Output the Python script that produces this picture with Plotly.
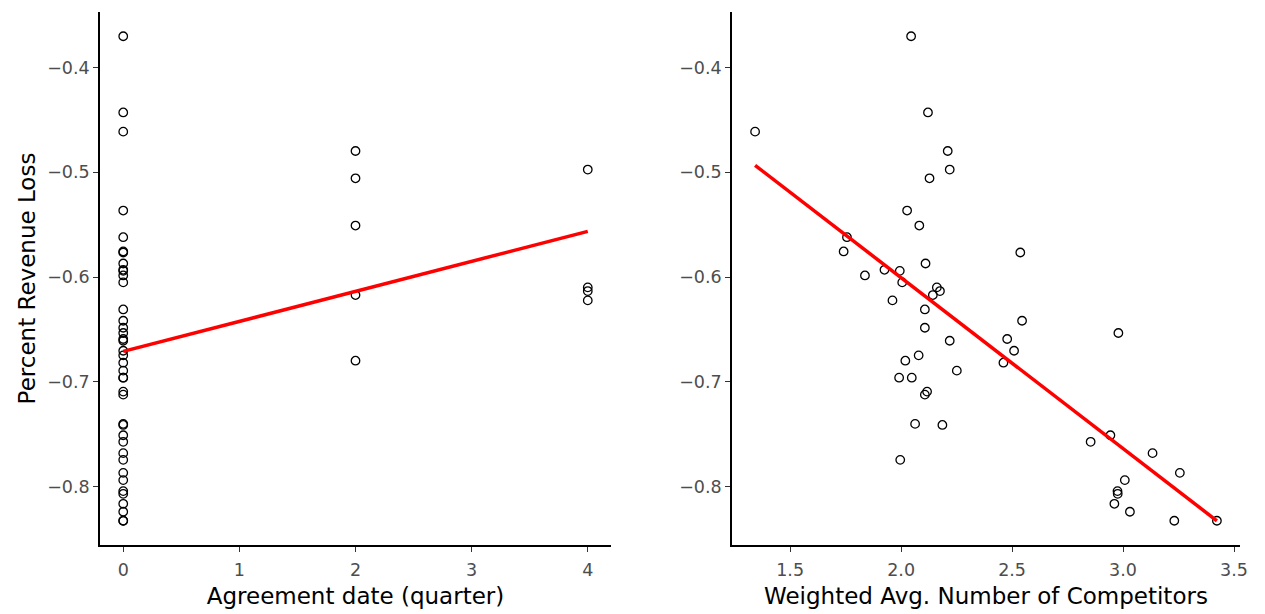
import numpy as np
import plotly.graph_objects as go

agreement_quarter = [0, 0, 0, 2, 4, 2, 0, 2, 0, 0,
                     0, 0, 0, 0, 0, 0, 4, 4, 2, 4,
                     0, 0, 0, 0, 0, 0, 0, 0, 2, 0,
                     0, 0, 0, 0, 0, 0, 0, 0, 0, 0,
                     0, 0, 0, 0, 0, 0, 0, 0, 0]
competitors = [2.045, 1.342, 2.121, 2.210, 2.219, 2.128, 2.027, 2.082, 1.756, 1.741,
               2.537, 2.110, 1.925, 1.994, 1.837, 2.005, 2.161, 2.175, 2.143, 1.961,
               2.107, 2.545, 2.107, 2.979, 2.478, 2.219, 2.509, 2.079, 2.019, 2.461,
               2.251, 1.991, 2.048, 2.117, 2.107, 2.063, 2.186, 2.943, 2.854, 3.133,
               1.996, 3.256, 3.008, 2.975, 2.976, 2.961, 3.031, 3.231, 3.423]
revenue_loss = [-0.3702, -0.4612, -0.4429, -0.4797, -0.4974, -0.5057, -0.5365, -0.5508, -0.5619, -0.5755,
                -0.5765, -0.5870, -0.5930, -0.5940, -0.5984, -0.6050, -0.6098, -0.6133, -0.6171, -0.6222,
                -0.6308, -0.6416, -0.6483, -0.6533, -0.6590, -0.6607, -0.6702, -0.6746, -0.6797, -0.6816,
                -0.6892, -0.6959, -0.6959, -0.7092, -0.7121, -0.7400, -0.7410, -0.7508, -0.7571, -0.7679,
                -0.7743, -0.7867, -0.7936, -0.8041, -0.8067, -0.8162, -0.8238, -0.8324, -0.8324]

y_ticks = [-0.8, -0.7, -0.6, -0.5, -0.4]
x1_ticks = [0, 1, 2, 3, 4]
x2_ticks = [1.5, 2.0, 2.5, 3.0, 3.5]

x1 = np.array(agreement_quarter, dtype=float)
x2 = np.array(competitors)
y = np.array(revenue_loss)

def fit_line(x, yv):
    b, a = np.polyfit(x, yv, 1)
    xs = np.array([x.min(), x.max()])
    return xs, a + b * xs

def expand(v, f=0.05):
    lo, hi = float(np.min(v)), float(np.max(v))
    d = (hi - lo) * f
    return [lo - d, hi + d]

fig = go.Figure()
marker = dict(symbol="circle-open", size=8.5, color="black", line=dict(width=1.3, color="black"))

fig.add_trace(go.Scatter(x=x1, y=y, mode="markers", marker=marker, xaxis="x", yaxis="y", showlegend=False))
lx, ly = fit_line(x1, y)
fig.add_trace(go.Scatter(x=lx, y=ly, mode="lines", line=dict(color="#FF0000", width=3.5), xaxis="x", yaxis="y", showlegend=False))

fig.add_trace(go.Scatter(x=x2, y=y, mode="markers", marker=marker, xaxis="x2", yaxis="y2", showlegend=False))
rx, ry = fit_line(x2, y)
fig.add_trace(go.Scatter(x=rx, y=ry, mode="lines", line=dict(color="#FF0000", width=3.5), xaxis="x2", yaxis="y2", showlegend=False))

W, H = 1265, 614
ydom = [1 - 545 / H, 1 - 12 / H]
yrange = expand(y)

FONT = "DejaVu Sans, Liberation Sans, Arial, sans-serif"
axis_common = dict(
    showline=True, linecolor="black", linewidth=1.6, mirror=False,
    showgrid=False, zeroline=False,
    ticks="outside", ticklen=5, tickwidth=1.2, tickcolor="#333333",
    tickfont=dict(family=FONT, size=17.5, color="#4D4D4D"),
    automargin=False,
)
title_font = dict(family=FONT, size=23, color="black")

fig.update_layout(
    width=W, height=H,
    margin=dict(l=0, r=0, t=0, b=0),
    plot_bgcolor="white", paper_bgcolor="white",
    xaxis=dict(domain=[100 / W, 611 / W], range=[-0.2, 4.2], tickvals=x1_ticks,
               ticktext=[str(t) for t in x1_ticks], anchor="y", ticklabelstandoff=3,
               title=dict(text="Agreement date (quarter)", font=title_font, standoff=9), **axis_common),
    yaxis=dict(domain=ydom, range=yrange, tickvals=y_ticks, tickformat=".1f", anchor="x",
               title=dict(text="Percent Revenue Loss", font=title_font, standoff=5), **axis_common),
    xaxis2=dict(domain=[732 / W, 1240 / W], range=expand(x2), tickvals=x2_ticks, tickformat=".1f",
                anchor="y2", ticklabelstandoff=3,
                title=dict(text="Weighted Avg. Number of Competitors", font=title_font, standoff=9), **axis_common),
    yaxis2=dict(domain=ydom, range=yrange, tickvals=y_ticks, tickformat=".1f", anchor="x2", **axis_common),
)

fig.write_html("out.html")
